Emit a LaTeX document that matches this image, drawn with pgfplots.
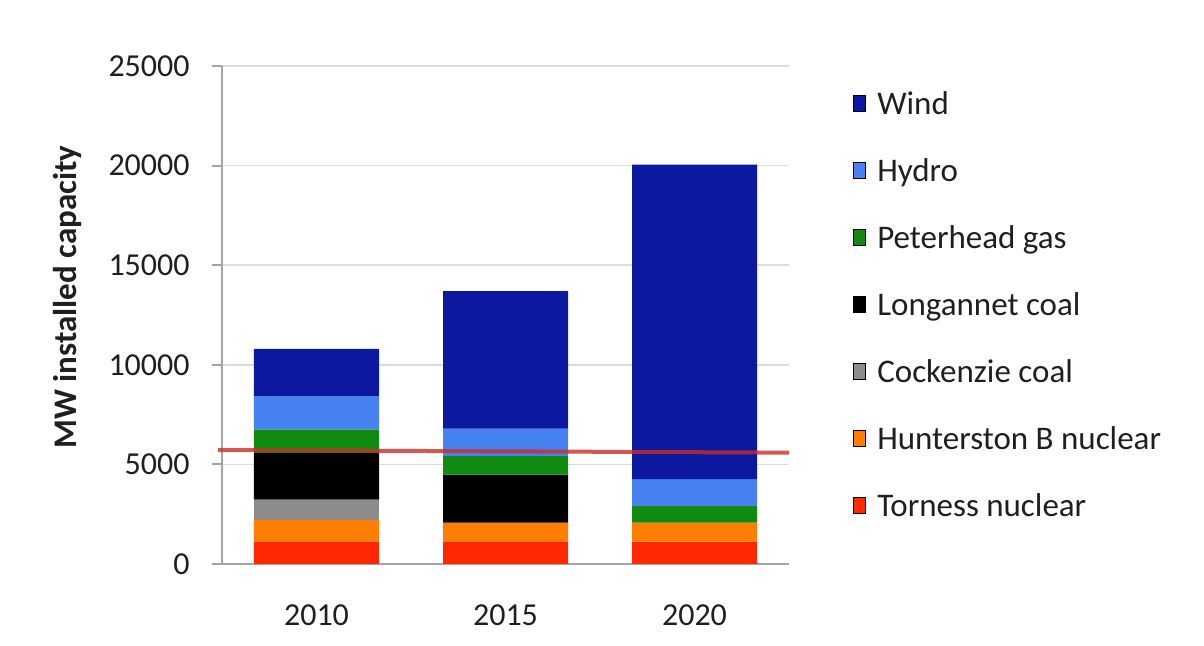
\documentclass[border=0pt]{standalone}
\usepackage{fontspec}
\setmainfont{Carlito}
\usepackage{pgfplots}
\usepackage{pgfplotstable}
\pgfplotsset{compat=1.18}
\definecolor{cWind}{RGB}{12,24,160}
\definecolor{cHydro}{RGB}{70,130,240}
\definecolor{cGas}{RGB}{16,138,16}
\definecolor{cLong}{RGB}{0,0,0}
\definecolor{cCock}{RGB}{140,140,140}
\definecolor{cHunt}{RGB}{255,125,0}
\definecolor{cTorn}{RGB}{255,40,0}
\definecolor{cLine}{RGB}{200,45,40}
\definecolor{cAxis}{RGB}{165,165,165}
\definecolor{cGrid}{RGB}{220,220,220}
\pgfplotsset{/pgfplots/ybar legend/.style={/pgfplots/legend image code/.code={\fill[##1,draw=none] (0pt,0pt) rectangle (8.5pt,8.5pt);}}}
\pgfplotstableread{
x torness hunterston cockenzie longannet peterhead hydro wind
0 1130 1090 1010 2350 1180 1650 2390
1 1130 950 0 2410 920 1380 6910
2 1120 960 0 0 830 1350 15790
}\datatable
\newcommand{\fs}{\fontsize{16}{19}\selectfont}
\newcommand{\fl}{\fontsize{16.5}{19.5}\selectfont}
\begin{document}
\begin{tikzpicture}
\begin{axis}[
  scale only axis, width=283.5pt, height=249pt,
  xmin=-0.5, xmax=2.5, ymin=0, ymax=25000,
  ybar stacked, bar width=62.5pt,
  reverse stacked plots=false,
  axis x line*=bottom, axis y line*=left,
  axis line style={draw=cAxis, line width=1pt},
  tick align=outside,
  xtick={0,1,2}, xticklabels={2010,2015,2020},
  major x tick style={draw=none},
  extra x ticks={0.5,1.5,2.5}, extra x tick labels={},
  extra x tick style={major tick length=6pt, tick style={draw=cAxis, line width=1pt}},
  ytick={0,5000,10000,15000,20000,25000},
  major tick length=5pt,
  y tick style={draw=cAxis, line width=1pt},
  ymajorgrids, grid style={draw=cGrid, line width=0.8pt},
  scaled y ticks=false,
  /pgf/number format/assume math mode=true,
  /pgf/number format/1000 sep={},
  tick label style={font=\fs, text=black!88},
  yticklabel style={inner sep=0pt, xshift=-11pt},
  xticklabel style={inner sep=0pt, yshift=-15pt},
  ylabel={MW installed capacity},
  ylabel style={at={(axis description cs:-0.273,0.536)}, anchor=center, font=\fl\bfseries, text=black!88},
  reverse legend,
  legend style={at={(axis description cs:1.113,0.948)}, anchor=north west, draw=none, fill=none,
    inner sep=0pt, row sep=18.6pt, column sep=5.5pt, font=\fl, text=black!88,
    nodes={inner sep=0pt, text height=11.3pt, text depth=3.6pt}},
  legend cell align=left,
  clip=false,
]
\addplot[fill=cTorn, draw=none] table[x=x, y=torness] {\datatable};
\addlegendentry{Torness nuclear}
\addplot[fill=cHunt, draw=none] table[x=x, y=hunterston] {\datatable};
\addlegendentry{Hunterston B nuclear}
\addplot[fill=cCock, draw=none] table[x=x, y=cockenzie] {\datatable};
\addlegendentry{Cockenzie coal}
\addplot[fill=cLong, draw=none] table[x=x, y=longannet] {\datatable};
\addlegendentry{Longannet coal}
\addplot[fill=cGas, draw=none] table[x=x, y=peterhead] {\datatable};
\addlegendentry{Peterhead gas}
\addplot[fill=cHydro, draw=none] table[x=x, y=hydro] {\datatable};
\addlegendentry{Hydro}
\addplot[fill=cWind, draw=none] table[x=x, y=wind] {\datatable};
\addlegendentry{Wind}
\addplot[stack plots=false, sharp plot, forget plot, draw=cLine, fill=none, line width=2pt, opacity=0.8, mark=none] coordinates {(-0.52,5720) (2.5,5590)};
\end{axis}
\path[use as bounding box] (-111pt,-41pt) rectangle (491pt,282pt);
\end{tikzpicture}
\end{document}
